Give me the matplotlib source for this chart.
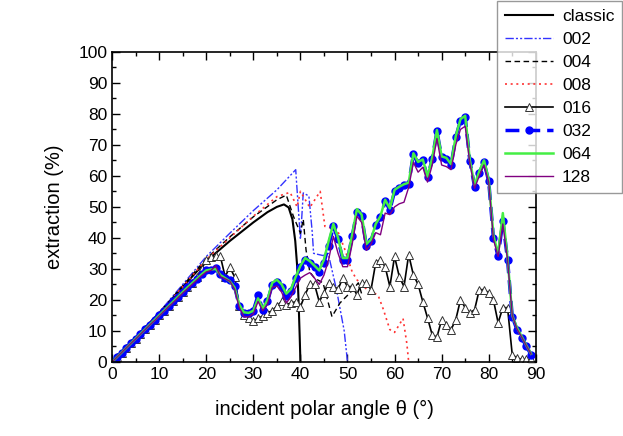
import matplotlib
matplotlib.use("Agg")
import matplotlib.pyplot as plt
import numpy as np
from matplotlib.ticker import MultipleLocator

plt.rcParams['font.family'] = ['Liberation Sans', 'DejaVu Sans']

# incident angle grid (deg) for the multi-point series
theta = list(range(0, 90))

classic_theta = [0, 5, 10, 15, 20, 25, 30, 33, 35, 36.5, 37.5, 38.3, 38.9, 39.3, 39.6, 39.85, 40]
classic_val = [0, 7.8, 15.8, 24.2, 32.5, 39, 45, 48.3, 50, 50.8, 49.8, 46, 39, 31, 20, 8, 0]

t002 = [0, 10, 20, 25, 30, 35, 39, 40, 40.6, 41.8, 42.5, 42.8, 44.8, 45.9, 47.7, 49.3, 50]
v002 = [0, 16, 34, 41.5, 48.8, 55.5, 62, 39.5, 54.5, 53.5, 42, 35, 34.3, 35, 23, 10, 0]

t004 = [0, 10, 20, 25, 30, 35, 37, 38.5, 40, 40.6, 41.2, 42, 43, 44.8, 46.7, 48.4, 51, 52.3, 53]
v004 = [0, 15.8, 33.3, 40.3, 46.8, 52.3, 53.8, 47, 41.5, 46, 36, 29, 27, 25.5, 14.6, 19, 23, 25.5, 22]

t008 = [0, 10, 20, 25, 30, 35, 37.8, 39.3, 40, 42, 44.2, 45.2, 47.8, 49.5, 51, 52, 54, 56.5,
        57.6, 59, 60, 61.8, 62.6, 63]
v008 = [0, 15.6, 33, 40, 47, 53.3, 54.7, 50, 55, 49.8, 55, 43.7, 42.7, 36, 29, 26.5, 23.5, 21.5,
        17, 10.4, 9.5, 14, 6, 0]

v016 = [0, 1.5, 3, 4.5, 6, 7.5, 9, 10.5, 12, 13.5, 15, 16.5, 18, 19.5, 21, 22.5, 24, 25.5, 27.3, 30,
        32.8, 33.8, 34, 34, 27.5, 30.5, 27.5, 18, 15, 14.2, 13.2, 14, 14.8, 15.8, 16.5, 18, 19.5, 18.5,
        19, 19.4, 17.8, 21.7, 25, 25, 19.4, 22.3, 25.5, 24.3, 23.5, 27, 24.3, 24.3, 21.7, 25.5, 25.5,
        23.3, 32, 33, 30.7, 24.3, 34, 27.5, 24.3, 34.6, 28, 25, 19.4, 14.2, 8.7, 8, 13.6, 12, 10.4,
        13.6, 20, 17.5, 15.8, 16.8, 23.3, 23.3, 22.3, 20, 12.6, 17.5, 17.5, 2.3, 1.3, 0.8, 0.8, 0.8]

v032 = [0, 1.5, 3, 4.5, 6, 7.5, 9, 10.5, 12, 13.5, 15, 16.5, 18, 19.5, 21, 22.5, 24, 25.4, 26.8, 28.2,
        29.5, 29.8, 30.2, 28.3, 27.2, 26.3, 24.5, 18, 15.8, 15.8, 16.5, 21.5, 16.8, 19.5, 24.8, 25.8,
        24.3, 21.3, 22.8, 27, 30.7, 33, 32, 30.7, 29, 32, 37.5, 43.7, 39.5, 33, 33, 40.5, 48.5, 47,
        37.5, 39, 44, 46.6, 51.8, 49, 55, 56, 57, 57.3, 67, 64, 65, 59.5, 65.4, 74.4, 66, 65.5, 63.4,
        72.5, 77.8, 79, 64.7, 56.5, 61, 64.4, 58.3, 40, 34, 45.5, 33, 14.6, 10.4, 7.8, 5, 2.3]

v064 = [0, 1.5, 3, 4.5, 6, 7.5, 9, 10.5, 12, 13.5, 15, 16.5, 18, 19.5, 21, 22.5, 24, 25.4, 26.8, 28.2,
        29.5, 29.8, 30, 28, 27, 26, 24, 18.5, 16, 15.8, 16.5, 20.5, 17.2, 20, 25.5, 26.5, 25,
        22, 23.5, 27.5, 31, 33.5, 32.5, 31, 29.5, 33, 39, 44.5, 40, 33.5, 33.5, 41, 49.3, 47.5,
        38, 39.5, 44.5, 47, 52.3, 49.5, 55.5, 56.5, 57.3, 57.8, 67.3, 64.5, 65.3, 59.8, 65.8, 74.8, 66.3,
        65.8, 63.8, 72.8, 78.3, 79.4, 65, 57, 61.5, 65, 58.8, 40.8, 34.8, 48, 33.5, 15, 11, 8.2, 5.3, 2.6]

v128 = [0, 1.5, 3, 4.5, 6, 7.4, 8.9, 10.4, 11.9, 13.3, 14.8, 16.3, 17.8, 19.2, 20.7, 22.2, 23.6, 25, 26.4, 27.8,
        29, 29.5, 31, 27.5, 26.8, 26, 23.5, 17.5, 14.5, 14.5, 15.5, 19.5, 16.5, 18.5, 24, 24.5, 22.5,
        19, 21, 24, 27, 28, 28.8, 27, 25, 28, 33, 40.5, 35, 30.7, 30.7, 38, 47, 45, 36, 38, 41.7, 41,
        48, 47.5, 50, 51, 51.5, 56.3, 64.4, 61.2, 62.8, 58, 63.5, 72, 63.5, 63, 62, 70, 75, 76, 64,
        56, 60, 63.5, 58, 39.5, 34, 44.5, 33, 15, 10.6, 8, 5.2, 2.5]

fig = plt.figure(figsize=(6.23, 4.36), dpi=100)
ax = fig.add_axes([0.180, 0.170, 0.680, 0.711])

ax.plot(classic_theta, classic_val, '-', color='black', lw=1.5, label='classic')
ax.plot(t002, v002, color='#3333ff', lw=1.0, ls=(0, (6, 1.5, 1.5, 1.5, 1.5, 1.5)), label='002')
ax.plot(t004, v004, color='black', lw=1.0, ls=(0, (4, 2.5)), label='004')
ax.plot(t008, v008, color='#ff3333', lw=1.2, ls=(0, (1.2, 2.2)), label='008')
ax.plot(theta, v016, '-', color='black', lw=1.2, marker='^', ms=5.5, mfc='white', mec='#333333',
        mew=0.7, label='016')
ax.plot(theta, v032, color='#0000ff', lw=2.5, ls=(0, (4, 2)), marker='o', ms=5, mfc='#0000ff',
        mec='#0000ff', label='032')
ax.plot(theta, v064, '-', color='#44ee44', lw=1.8, label='064')
ax.plot(theta, v128, '-', color='#800080', lw=1.0, label='128')

ax.set_xlim(0, 90)
ax.set_ylim(0, 100)
ax.xaxis.set_major_locator(MultipleLocator(10))
ax.xaxis.set_minor_locator(MultipleLocator(5))
ax.yaxis.set_major_locator(MultipleLocator(10))
ax.yaxis.set_minor_locator(MultipleLocator(5))
ax.tick_params(which='both', direction='in', top=True, right=True, labelsize=12.5, width=1.0)
ax.tick_params(which='major', length=6)
ax.tick_params(which='minor', length=3)
for s in ax.spines.values():
    s.set_linewidth(1.2)

ax.set_xlabel('incident polar angle θ (°)', fontsize=14.5, labelpad=13)
ax.set_ylabel('extraction (%)', fontsize=14.5, labelpad=10)

lgd = fig.legend(loc='upper right', bbox_to_anchor=(0.999, 0.997), fontsize=12.5, frameon=True,
                 fancybox=False, edgecolor='#808080', handlelength=2.8, handletextpad=0.5,
                 labelspacing=0.45, borderpad=0.45, borderaxespad=0)
lgd.get_frame().set_linewidth(1.0)

fig.savefig('out.png', dpi=100)
